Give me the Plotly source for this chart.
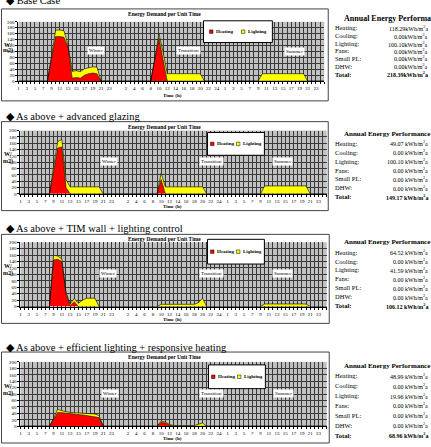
import plotly.graph_objects as go

W, H = 431, 447
SERIF = "Liberation Serif"

# ---------------- data (hours 1..24 for each season) ----------------
hours = list(range(1, 25))
seasons = ["Winter", "Transition", "Summer"]

# Panel 1: Base Case
base_heat_winter = [0, 0, 0, 0, 0, 0, 0, 0, 75, 150, 150, 148, 115, 10, 12, 10, 20, 25, 27, 25, 0, 0, 0, 0]
base_light_winter = [0, 0, 0, 0, 0, 0, 0, 0, 10, 22, 22, 22, 7, 23, 23, 22, 22, 20, 21, 22, 0, 0, 0, 0]
base_heat_trans = [0, 0, 0, 0, 0, 0, 0, 0, 72, 145, 72, 0, 0, 0, 0, 0, 0, 0, 0, 0, 0, 0, 0, 0]
base_light_trans = [0, 0, 0, 0, 0, 0, 0, 0, 5, 15, 25, 25, 25, 25, 25, 25, 25, 25, 25, 25, 0, 0, 0, 0]
base_heat_summer = [0] * 24
base_light_summer = [0, 0, 0, 0, 0, 0, 0, 0, 0, 25, 25, 25, 25, 25, 25, 25, 25, 25, 25, 25, 0, 0, 0, 0]

# Panel 2: + advanced glazing
glz_heat_winter = [0, 0, 0, 0, 0, 0, 0, 0, 70, 145, 148, 20, 0, 0, 0, 0, 0, 0, 0, 0, 0, 0, 0, 0]
glz_light_winter = [0, 0, 0, 0, 0, 0, 0, 0, 15, 20, 24, 25, 22, 22, 22, 22, 22, 22, 22, 22, 0, 0, 0, 0]
glz_heat_trans = [0, 0, 0, 0, 0, 0, 0, 0, 0, 45, 0, 0, 0, 0, 0, 0, 0, 0, 0, 0, 0, 0, 0, 0]
glz_light_trans = [0, 0, 0, 0, 0, 0, 0, 0, 0, 20, 22, 22, 22, 22, 22, 22, 22, 22, 22, 22, 0, 0, 0, 0]
glz_heat_summer = [0] * 24
glz_light_summer = [0, 0, 0, 0, 0, 0, 0, 0, 0, 25, 25, 25, 25, 25, 25, 25, 25, 25, 25, 25, 0, 0, 0, 0]

# Panel 3: + TIM wall + lighting control
tim_heat_winter = [0, 0, 0, 0, 0, 0, 0, 0, 145, 147, 140, 40, 3, 15, 0, 0, 0, 0, 0, 0, 0, 0, 0, 0]
tim_light_winter = [0, 0, 0, 0, 0, 0, 0, 0, 15, 10, 8, 5, 5, 10, 10, 20, 26, 26, 26, 0, 0, 0, 0, 0]
tim_heat_trans = [0] * 24
tim_light_trans = [0, 0, 0, 0, 0, 0, 0, 0, 0, 7, 7, 7, 7, 7, 7, 7, 7, 7, 12, 26, 0, 0, 0, 0]
tim_heat_summer = [0] * 24
tim_light_summer = [0, 0, 0, 0, 0, 0, 0, 0, 0, 8, 8, 8, 8, 8, 8, 8, 8, 8, 8, 8, 0, 0, 0, 0]

# Panel 4: + efficient lighting + responsive heating
eff_heat_winter = [0, 0, 0, 0, 0, 0, 0, 0, 21, 43, 42, 41, 40, 38, 37, 35, 33, 31, 29, 27, 0, 0, 0, 0]
eff_light_winter = [0, 0, 0, 0, 0, 0, 0, 0, 3, 10, 6, 4, 3, 4, 4, 5, 7, 8, 9, 6, 0, 0, 0, 0]
eff_heat_trans = [0, 0, 0, 0, 0, 0, 0, 0, 0, 12, 10, 3, 0, 0, 0, 0, 0, 0, 0, 0, 0, 0, 0, 0]
eff_light_trans = [0, 0, 0, 0, 0, 0, 0, 0, 0, 4, 3, 2, 2, 2, 2, 2, 2, 2, 6, 10, 0, 0, 0, 0]
eff_heat_summer = [0] * 24
eff_light_summer = [0, 0, 0, 0, 0, 0, 0, 0, 0, 2, 2, 2, 2, 2, 2, 2, 2, 2, 2, 2, 0, 0, 0, 0]

headings = ["Base Case", "As above + advanced glazing", "As above + TIM wall + lighting control",
            "As above + efficient lighting + responsive heating"]

perf_labels = ["Heating:", "Cooling:", "Lighting:", "Fans:", "Small PL:", "DHW:", "Total:"]
base_perf = [118.29, 0.00, 100.10, 0.00, 0.00, 0.00, 218.39]
glz_perf = [49.07, 0.00, 100.10, 0.00, 0.00, 0.00, 149.17]
tim_perf = [64.52, 0.00, 41.59, 0.00, 0.00, 0.00, 106.12]
eff_perf = [48.99, 0.00, 19.96, 0.00, 0.00, 0.00, 68.96]

series_names = ["Heating", "Lighting"]
colors = ["#FF0000", "#FFFF00"]


def join(w, t, s):
    return list(w) + [0] + list(t) + [0] + list(s) + [0]


cat_labels = [str(h) for h in hours] + [""] + [str(h) for h in hours] + [""] + [str(h) for h in hours] + [""]
xs = list(range(len(cat_labels)))
tickvals = xs[::2]
ticktext = [cat_labels[v] for v in tickvals]

panels_data = [
    (join(base_heat_winter, base_heat_trans, base_heat_summer), join(base_light_winter, base_light_trans, base_light_summer), base_perf),
    (join(glz_heat_winter, glz_heat_trans, glz_heat_summer), join(glz_light_winter, glz_light_trans, glz_light_summer), glz_perf),
    (join(tim_heat_winter, tim_heat_trans, tim_heat_summer), join(tim_light_winter, tim_light_trans, tim_light_summer), tim_perf),
    (join(eff_heat_winter, eff_heat_trans, eff_heat_summer), join(eff_light_winter, eff_light_trans, eff_light_summer), eff_perf),
]

# ---------------- layout geometry (pixels) ----------------
layout_px = [
    dict(xd=(17.5, 324), yd=(20, 80), box=(0.5, 7, 328, 100), head=-1.5, title=12,
         leg=(203, 19, 272, 41), legx=(209, 241), seas=[(95, 49), (188, 49), (294, 50)], time=95,
         ytl=(43, 49), tabtitle=17, rows=[26, 34, 42, 49.5, 57, 65, 73], tfs=8, sep=""),
    dict(xd=(19.5, 326.5), yd=(130, 194), box=(0.5, 121, 328, 211), head=116, title=126,
         leg=(207, 132, 264, 155), legx=(210, 236), seas=[(108, 161), (211, 161), (282, 161)], time=207,
         ytl=(154, 161), tabtitle=133, rows=[143, 152, 161, 170, 179, 188, 197], tfs=7, sep=" "),
    dict(xd=(19.5, 326.5), yd=(243, 308), box=(0.5, 235, 329, 325), head=229, title=239.5,
         leg=(207, 240, 264, 265), legx=(210, 236), seas=[(107, 275), (211, 275), (282, 275)], time=321,
         ytl=(267, 275), tabtitle=243, rows=[253, 262, 271, 280, 289, 298, 307], tfs=7, sep=" "),
    dict(xd=(19.5, 326.5), yd=(364, 429), box=(0.5, 354, 329, 446), head=349, title=359,
         leg=(208, 367, 265, 391), legx=(211, 237), seas=[(109, 396), (211, 396), (283, 396)], time=441,
         ytl=(388, 396), tabtitle=368, rows=[378, 388, 398, 408, 418, 428, 438], tfs=7, sep=" "),
]


def px(x):
    return x / W


def py(y):
    return 1 - y / H


GRID = "#3a3a3a"
fig = go.Figure()
shapes = []
annotations = []

for k, ((heat, light, perf), g) in enumerate(zip(panels_data, layout_px)):
    n = k + 1
    xa = "x" if n == 1 else f"x{n}"
    ya = "y" if n == 1 else f"y{n}"
    sg = f"p{n}"
    for vals, name, col in zip([heat, light], series_names, colors):
        fig.add_trace(go.Scatter(x=xs, y=vals, name=name, mode="lines", stackgroup=sg,
                                 fillcolor=col, line=dict(color="black", width=0.6),
                                 xaxis=xa, yaxis=ya, showlegend=False, hoverinfo="skip"))
    axx = dict(domain=[px(g["xd"][0]), px(g["xd"][1])], range=[0, len(xs) - 1], anchor=ya,
               tickmode="array", tickvals=tickvals, ticktext=ticktext,
               tickfont=dict(size=5, family=SERIF, color="black"), showgrid=True, gridcolor=GRID,
               gridwidth=1, ticks="outside", ticklen=2, tickcolor="black", showline=True,
               linecolor="black", linewidth=1, zeroline=False,
               minor=dict(tickmode="linear", tick0=0, dtick=1, showgrid=True, gridcolor=GRID,
                          ticks="outside", ticklen=2, tickcolor="black"))
    axy = dict(domain=[py(g["yd"][1]), py(g["yd"][0])], range=[0, 200], anchor=xa,
               tickmode="linear", tick0=0, dtick=20,
               tickfont=dict(size=5, family=SERIF, color="black"), showgrid=True, gridcolor=GRID,
               gridwidth=1, ticks="outside", ticklen=2, tickcolor="black", showline=True,
               linecolor="black", linewidth=1, zeroline=False)
    fig.update_layout(**{("xaxis" if n == 1 else f"xaxis{n}"): axx,
                         ("yaxis" if n == 1 else f"yaxis{n}"): axy})

    # outer chart box
    bx0, by0, bx1, by1 = g["box"]
    shapes.append(dict(type="rect", xref="paper", yref="paper", x0=px(bx0), x1=px(bx1),
                       y0=py(by1), y1=py(by0), line=dict(color="#444444", width=1), layer="below"))
    # heading
    annotations.append(dict(text="\u25c6 " + headings[k], x=px(3), y=py(g["head"]), xref="paper", yref="paper",
                            xanchor="left", yanchor="middle", showarrow=False,
                            font=dict(size=10.5, family=SERIF, color="black")))
    # chart title
    annotations.append(dict(text="<b>Energy Demand per Unit Time</b>", x=px(164), y=py(g["title"]),
                            xref="paper", yref="paper", xanchor="center", yanchor="middle", showarrow=False,
                            font=dict(size=5.5, family=SERIF, color="black")))
    # axis titles
    annotations.append(dict(text="<b>Time (h)</b>", x=px(172), y=py(g["time"]), xref="paper", yref="paper",
                            xanchor="center", yanchor="middle", showarrow=False,
                            font=dict(size=5, family=SERIF, color="black")))
    annotations.append(dict(text="<b>W/</b>", x=px(1), y=py(g["ytl"][0]), xref="paper", yref="paper",
                            xanchor="left", yanchor="middle", showarrow=False,
                            font=dict(size=6, family=SERIF, color="black")))
    annotations.append(dict(text="<b>m2)</b>", x=px(0), y=py(g["ytl"][1]), xref="paper", yref="paper",
                            xanchor="left", yanchor="middle", showarrow=False,
                            font=dict(size=6, family=SERIF, color="black")))
    # legend box
    lx0, ly0, lx1, ly1 = g["leg"]
    shapes.append(dict(type="rect", xref="paper", yref="paper", x0=px(lx0), x1=px(lx1),
                       y0=py(ly1), y1=py(ly0), line=dict(color="black", width=1), fillcolor="white"))
    ly = (ly0 + ly1) / 2
    for xi, name, col in zip(g["legx"], series_names, colors):
        shapes.append(dict(type="rect", xref="paper", yref="paper", x0=px(xi), x1=px(xi + 3.5),
                           y0=py(ly + 1.75), y1=py(ly - 1.75), line=dict(color="black", width=0.5),
                           fillcolor=col))
        annotations.append(dict(text=f"<b>{name}</b>", x=px(xi + 4.5), y=py(ly), xref="paper", yref="paper",
                                xanchor="left", yanchor="middle", showarrow=False,
                                font=dict(size=5, family=SERIF, color="black")))
    # season labels
    for (sx, sy), sname in zip(g["seas"], seasons):
        annotations.append(dict(text=sname, x=px(sx), y=py(sy), xref="paper", yref="paper",
                                xanchor="center", yanchor="middle", showarrow=False, bgcolor="white",
                                borderpad=1, font=dict(size=5, family=SERIF, color="black")))
    # performance table
    annotations.append(dict(text="<b>Annual Energy Performance</b>", x=px(342), y=py(g["tabtitle"]),
                            xref="paper", yref="paper", xanchor="left", yanchor="middle", showarrow=False,
                            font=dict(size=g["tfs"], family=SERIF, color="black")))
    for r, (lab, val, ry) in enumerate(zip(perf_labels, perf, g["rows"])):
        bold = lab == "Total:"
        ltxt = f"<b>{lab}</b>" if bold else lab
        vtxt = f"{val:.2f}{g['sep']}kWh/m<sup>2</sup>a"
        if bold:
            vtxt = f"<b>{vtxt}</b>"
        annotations.append(dict(text=ltxt, x=px(333), y=py(ry), xref="paper", yref="paper",
                                xanchor="left", yanchor="middle", showarrow=False,
                                font=dict(size=6.5, family=SERIF, color="black")))
        annotations.append(dict(text=vtxt, x=px(430), y=py(ry), xref="paper", yref="paper",
                                xanchor="right", yanchor="middle", showarrow=False,
                                font=dict(size=6, family=SERIF, color="black")))

fig.update_layout(width=W, height=H, margin=dict(l=0, r=0, t=0, b=0), paper_bgcolor="white",
                  plot_bgcolor="#c0c0c0", shapes=shapes, annotations=annotations, showlegend=False,
                  font=dict(family=SERIF, color="black"))

fig.write_html("out.html")
